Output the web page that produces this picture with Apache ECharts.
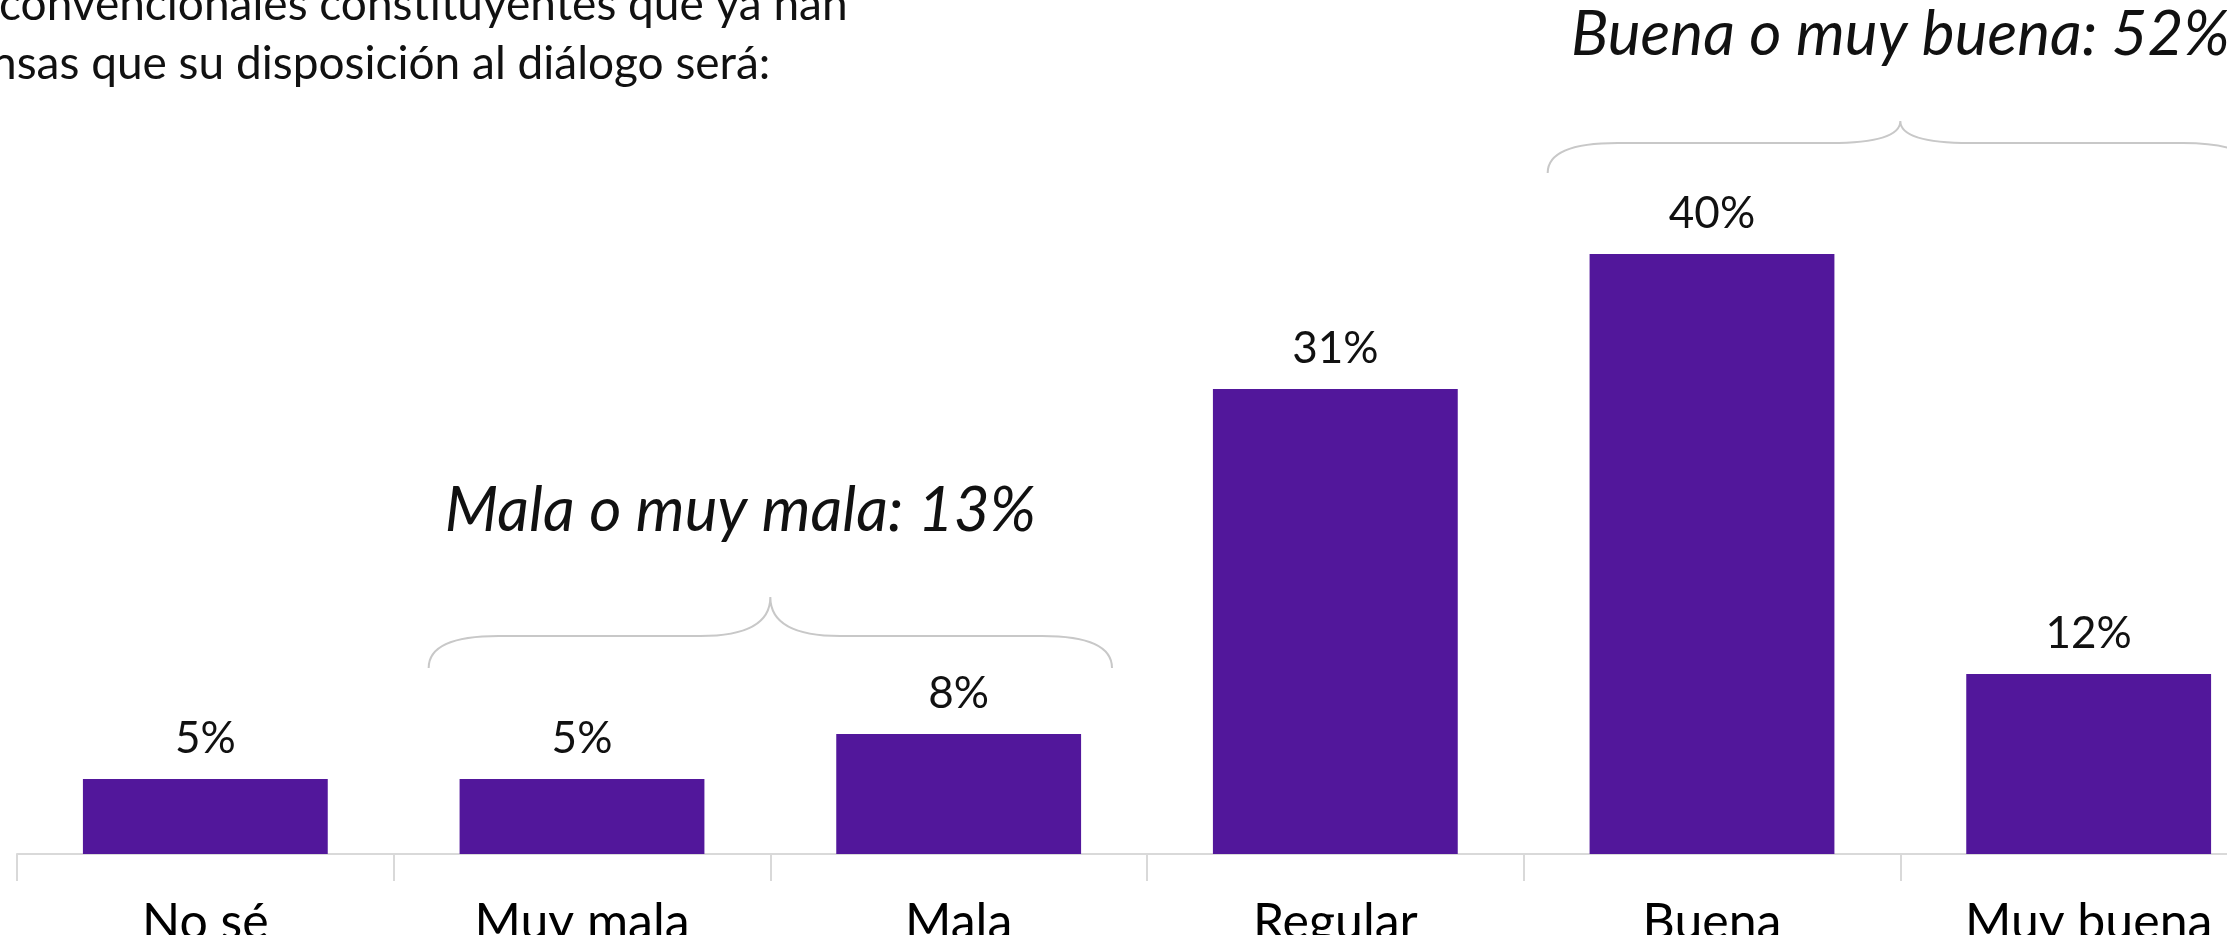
<!DOCTYPE html>
<html>
<head>
<meta charset="utf-8">
<script src="https://cdn.jsdelivr.net/npm/echarts@6/dist/echarts.min.js"></script>
<style>
  html, body { margin: 0; padding: 0; background: #fff; }
  #chart { width: 2227px; height: 935px; }
</style>
</head>
<body>
<div id="chart"></div>
<script>
// datos
const categories = ["No sé", "Muy mala", "Mala", "Regular", "Buena", "Muy buena"];
const values = [5, 5, 8, 31, 40, 12];
const groupLabels = ["Mala o muy mala: 13%", "Buena o muy buena: 52%"];
const groupStart = [1, 4];
const groupEnd = [2, 5];
const titleLines = ["convencionales constituyentes que ya han", "nsas que su disposición al diálogo será:"];

// llaves: separación sobre la barra más alta, altura del tramo y del pico
const braceLook = [
  { lift: 66, rise: 32, tip: 39, inset: 35, labelDx: -30 },
  { lift: 81, rise: 30, tip: 22, inset: 24, labelDx: 0 }
];

const FONT = "Lato, 'Open Sans', sans-serif";
const PURPLE = "#52179b";

const groupData = groupStart.map((s, i) => {
  const top = Math.max(...values.slice(s, groupEnd[i] + 1));
  return [s, groupEnd[i], top, i];
});

const chart = echarts.init(document.getElementById("chart"));

chart.setOption({
  animation: false,
  backgroundColor: "#fff",
  graphic: [
    {
      type: "text", left: -1, top: -18,
      style: { text: titleLines[0], font: "46px " + FONT, fill: "#111" }
    },
    {
      type: "text", left: -9, top: 41,
      style: { text: titleLines[1], font: "46px " + FONT, fill: "#111" }
    }
  ],
  grid: { left: 17, top: 104, width: 2260, height: 750, outerBoundsMode: "none" },
  xAxis: {
    type: "category",
    data: categories,
    axisLine: { lineStyle: { color: "#d9d9d9", width: 2 } },
    axisTick: { show: true, length: 27, lineStyle: { color: "#d9d9d9", width: 2 } },
    axisLabel: { color: "#000", fontSize: 50, fontFamily: FONT, margin: 44, interval: 0 }
  },
  yAxis: { type: "value", min: 0, max: 50, show: false, splitLine: { show: false } },
  series: [
    {
      type: "bar",
      data: values,
      barWidth: "65%",
      itemStyle: { color: PURPLE },
      label: {
        show: true, position: "top", distance: 18,
        formatter: "{c}%", color: "#111", fontSize: 44, fontFamily: FONT
      }
    },
    {
      type: "custom",
      data: groupData,
      encode: { x: 0, y: 2 },
      clip: false,
      silent: true,
      renderItem: function (params, api) {
        const look = braceLook[api.value(3)];
        const a = api.coord([api.value(0), api.value(2)]);
        const b = api.coord([api.value(1), api.value(2)]);
        const band = api.size([1, 0])[0];
        const x0 = a[0] - band / 2 + look.inset;
        const x1 = b[0] + band / 2 - look.inset;
        const xm = (x0 + x1) / 2;
        const yEnd = a[1] - look.lift;
        const yH = yEnd - look.rise;
        const yTip = yH - look.tip;
        const r = 70;
        const d = [
          "M", x0, yEnd,
          "Q", x0, yH, x0 + r, yH,
          "L", xm - r, yH,
          "Q", xm, yH, xm, yTip,
          "Q", xm, yH, xm + r, yH,
          "L", x1 - r, yH,
          "Q", x1, yH, x1, yEnd
        ].join(" ");
        return {
          type: "group",
          children: [
            {
              type: "path",
              shape: { pathData: d },
              style: { fill: null, stroke: "#c8c8c8", lineWidth: 2 }
            },
            {
              type: "text",
              x: xm + look.labelDx, y: yTip - 86,
              style: {
                text: groupLabels[api.value(3)],
                font: "italic 62px " + FONT,
                fill: "#111",
                align: "center",
                verticalAlign: "middle"
              }
            }
          ]
        };
      }
    }
  ]
});

window.addEventListener("resize", () => chart.resize());
</script>
</body>
</html>
